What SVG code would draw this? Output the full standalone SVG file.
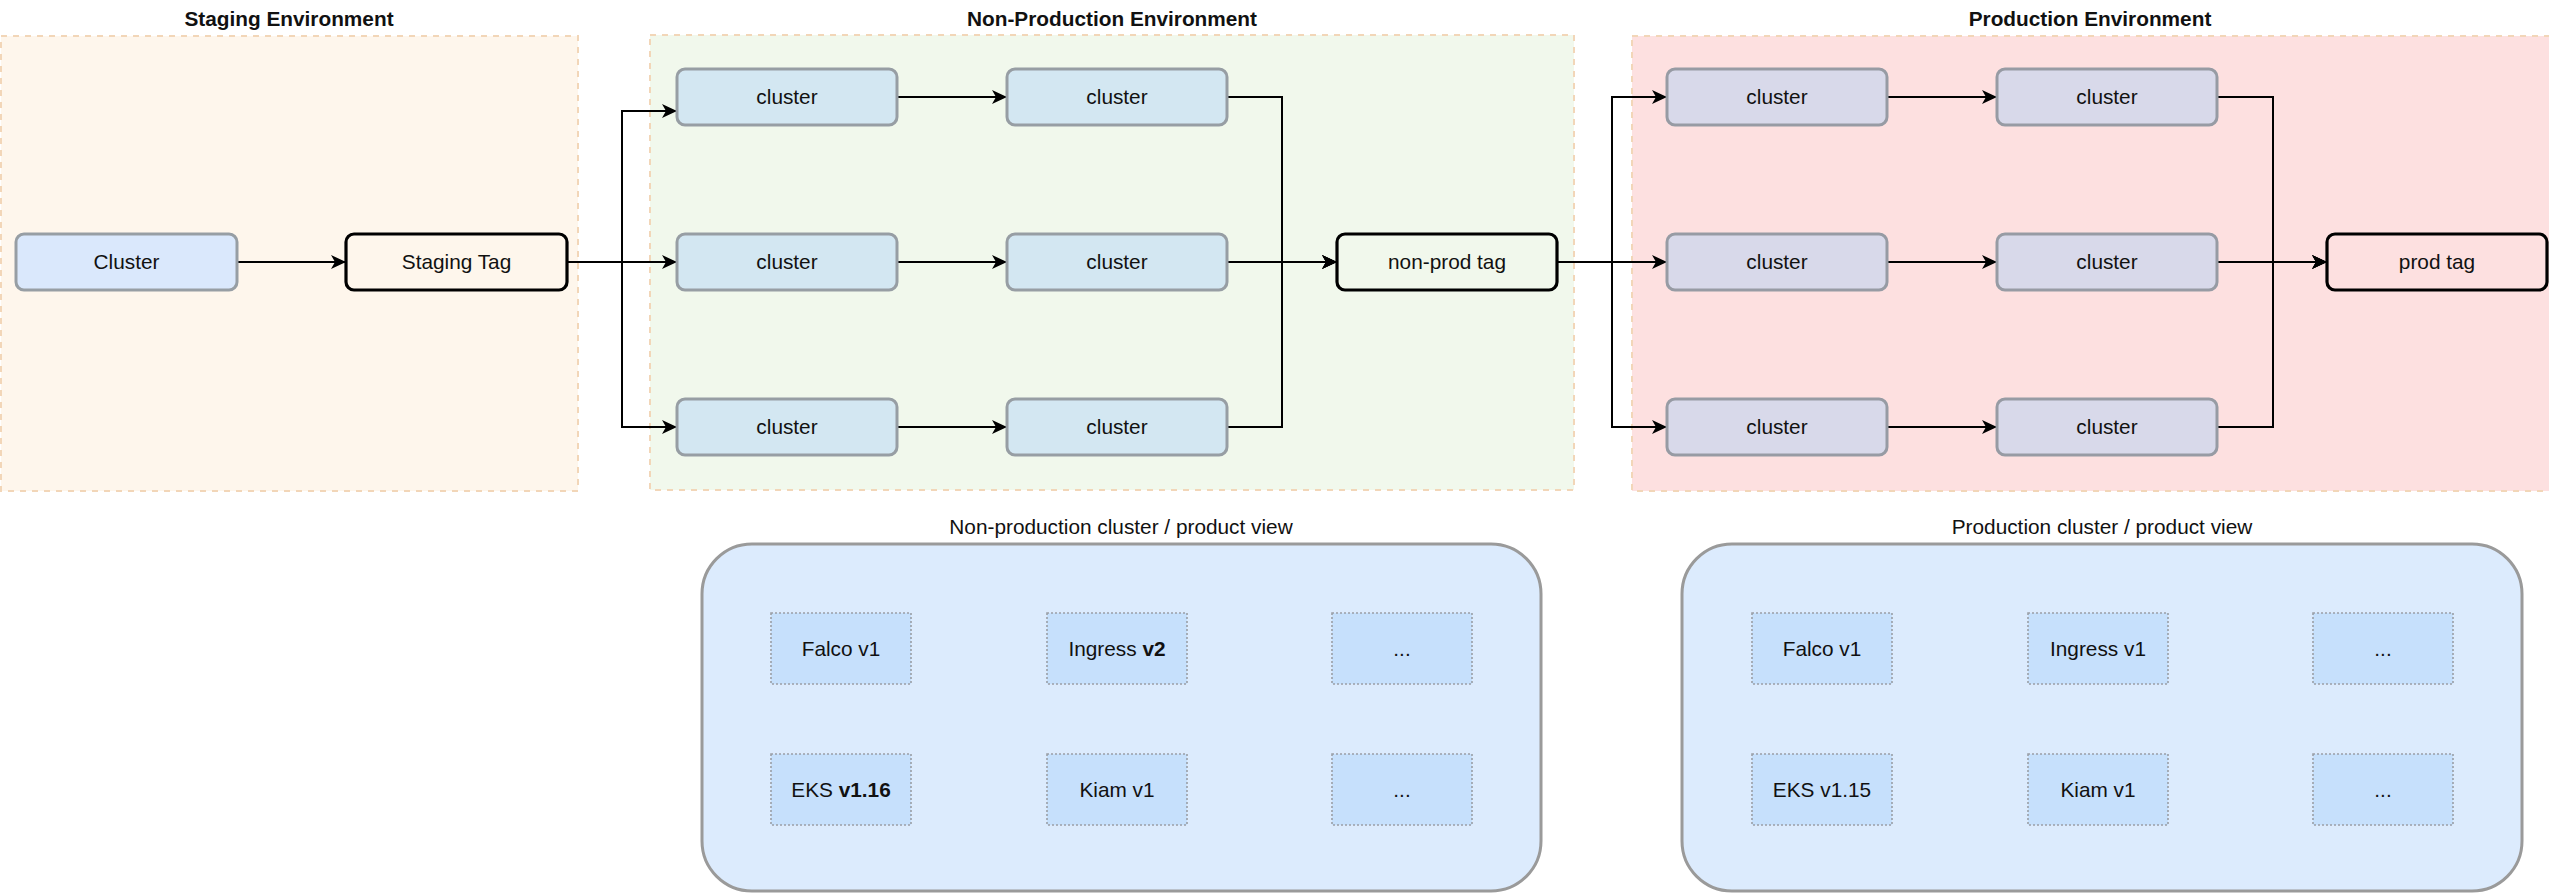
<svg xmlns="http://www.w3.org/2000/svg" width="2549" height="893" viewBox="0 0 2549 893">
<defs>
<style>
text{font-family:"Liberation Sans",Arial,Helvetica,sans-serif;font-size:20.8px;fill:#111;text-anchor:middle}
.title{font-weight:bold}
.env{stroke:#f2d6b8;stroke-width:2;stroke-dasharray:6 6}
.clS{fill:#dae8fc;stroke:#979ea4;stroke-width:3}
.clN{fill:#d3e7f2;stroke:#979ea4;stroke-width:3}
.clP{fill:#d8d9ea;stroke:#979ba4;stroke-width:3}
.tag{fill:none;stroke:#000;stroke-width:3.2}
.panel{fill:#dcebfd;stroke:#9a9a9a;stroke-width:3}
.item{fill:#c6e0fc;stroke:#9a9fa6;stroke-width:1.6;stroke-dasharray:2 2}
.conn path{fill:none;stroke:#000;stroke-width:2;marker-end:url(#arr)}
</style>
<marker id="arr" markerUnits="userSpaceOnUse" markerWidth="16" markerHeight="16" viewBox="-16 -8 16 16" refX="0" refY="0" orient="auto">
<path d="M0,0 L-15,-7 L-11,0 L-15,7 Z" fill="#000"/>
</marker>
</defs>
<rect width="2549" height="893" fill="#fff"/>

<g id="env-staging">
<rect class="env" x="1" y="36" width="577" height="455" fill="#fef6ec"/>
<text class="title" x="289" y="26">Staging Environment</text>
</g>
<g id="env-nonprod">
<rect class="env" x="650" y="35" width="924" height="455" fill="#f1f8ec"/>
<text class="title" x="1112" y="26">Non-Production Environment</text>
</g>
<g id="env-prod">
<rect class="env" x="1632" y="36" width="918" height="455" fill="#fde0e0"/>
<text class="title" x="2090" y="26">Production Environment</text>
</g>

<g id="connectors" class="conn">
<path d="M237,262 H346"/>
<path d="M567,262 H622 V111 H677"/>
<path d="M567,262 H677"/>
<path d="M567,262 H622 V427 H677"/>
<path d="M897,97 H1007"/>
<path d="M897,262 H1007"/>
<path d="M897,427 H1007"/>
<path d="M1227,97 H1282 V262 H1337"/>
<path d="M1227,262 H1337"/>
<path d="M1227,427 H1282 V262 H1337"/>
<path d="M1557,262 H1612 V97 H1667"/>
<path d="M1557,262 H1667"/>
<path d="M1557,262 H1612 V427 H1667"/>
<path d="M1887,97 H1997"/>
<path d="M1887,262 H1997"/>
<path d="M1887,427 H1997"/>
<path d="M2217,97 H2273 V262 H2327"/>
<path d="M2217,262 H2327"/>
<path d="M2217,427 H2273 V262 H2327"/>
</g>

<g id="staging-cluster"><rect class="clS" x="16" y="234" width="221" height="56" rx="8"/><text x="126.5" y="269">Cluster</text></g>
<g id="staging-tag"><rect class="tag" x="346" y="234" width="221" height="56" rx="8"/><text x="456.5" y="269">Staging Tag</text></g>

<g id="np-c11"><rect class="clN" x="677" y="69" width="220" height="56" rx="8"/><text x="787" y="104">cluster</text></g>
<g id="np-c12"><rect class="clN" x="1007" y="69" width="220" height="56" rx="8"/><text x="1117" y="104">cluster</text></g>
<g id="np-c21"><rect class="clN" x="677" y="234" width="220" height="56" rx="8"/><text x="787" y="269">cluster</text></g>
<g id="np-c22"><rect class="clN" x="1007" y="234" width="220" height="56" rx="8"/><text x="1117" y="269">cluster</text></g>
<g id="np-c31"><rect class="clN" x="677" y="399" width="220" height="56" rx="8"/><text x="787" y="434">cluster</text></g>
<g id="np-c32"><rect class="clN" x="1007" y="399" width="220" height="56" rx="8"/><text x="1117" y="434">cluster</text></g>
<g id="nonprod-tag"><rect class="tag" x="1337" y="234" width="220" height="56" rx="8"/><text x="1447" y="269">non-prod tag</text></g>

<g id="p-c11"><rect class="clP" x="1667" y="69" width="220" height="56" rx="8"/><text x="1777" y="104">cluster</text></g>
<g id="p-c12"><rect class="clP" x="1997" y="69" width="220" height="56" rx="8"/><text x="2107" y="104">cluster</text></g>
<g id="p-c21"><rect class="clP" x="1667" y="234" width="220" height="56" rx="8"/><text x="1777" y="269">cluster</text></g>
<g id="p-c22"><rect class="clP" x="1997" y="234" width="220" height="56" rx="8"/><text x="2107" y="269">cluster</text></g>
<g id="p-c31"><rect class="clP" x="1667" y="399" width="220" height="56" rx="8"/><text x="1777" y="434">cluster</text></g>
<g id="p-c32"><rect class="clP" x="1997" y="399" width="220" height="56" rx="8"/><text x="2107" y="434">cluster</text></g>
<g id="prod-tag"><rect class="tag" x="2327" y="234" width="220" height="56" rx="8"/><text x="2437" y="269">prod tag</text></g>

<g id="np-view">
<text x="1121" y="534">Non-production cluster / product view</text>
<rect class="panel" x="702" y="544" width="839" height="347" rx="50"/>
<rect class="item" x="771" y="613" width="140" height="71"/><text x="841" y="656">Falco v1</text>
<rect class="item" x="1047" y="613" width="140" height="71"/><text x="1117" y="656">Ingress <tspan font-weight="bold">v2</tspan></text>
<rect class="item" x="1332" y="613" width="140" height="71"/><text x="1402" y="656">...</text>
<rect class="item" x="771" y="754" width="140" height="71"/><text x="841" y="797">EKS <tspan font-weight="bold">v1.16</tspan></text>
<rect class="item" x="1047" y="754" width="140" height="71"/><text x="1117" y="797">Kiam v1</text>
<rect class="item" x="1332" y="754" width="140" height="71"/><text x="1402" y="797">...</text>
</g>

<g id="prod-view">
<text x="2102" y="534">Production cluster / product view</text>
<rect class="panel" x="1682" y="544" width="840" height="347" rx="50"/>
<rect class="item" x="1752" y="613" width="140" height="71"/><text x="1822" y="656">Falco v1</text>
<rect class="item" x="2028" y="613" width="140" height="71"/><text x="2098" y="656">Ingress v1</text>
<rect class="item" x="2313" y="613" width="140" height="71"/><text x="2383" y="656">...</text>
<rect class="item" x="1752" y="754" width="140" height="71"/><text x="1822" y="797">EKS v1.15</text>
<rect class="item" x="2028" y="754" width="140" height="71"/><text x="2098" y="797">Kiam v1</text>
<rect class="item" x="2313" y="754" width="140" height="71"/><text x="2383" y="797">...</text>
</g>
</svg>
